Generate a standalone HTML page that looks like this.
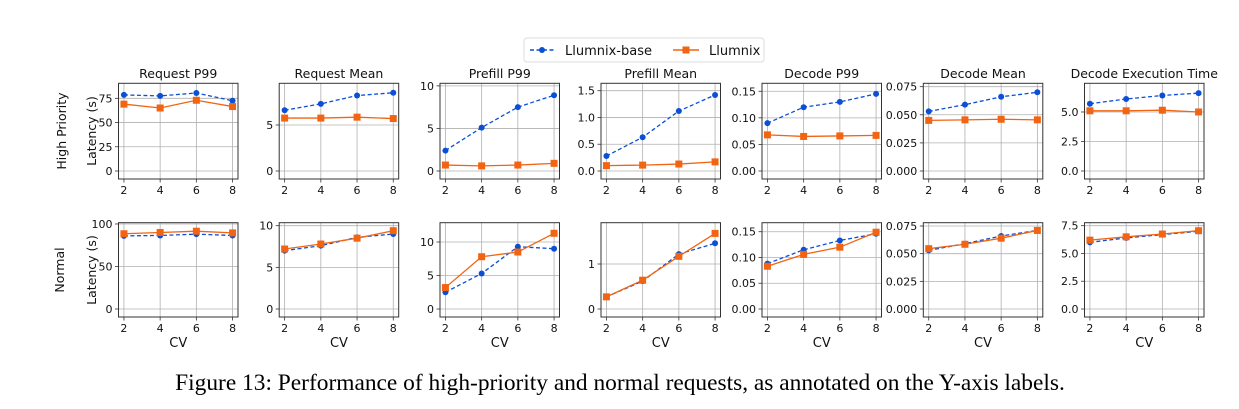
<!DOCTYPE html>
<html><head><meta charset="utf-8"><style>
body{margin:0;background:#fff;}
svg{display:block;font-family:"DejaVu Sans","Liberation Sans",sans-serif;}
</style></head><body>
<svg id="fig" width="1239" height="409" viewBox="0 0 1239 409" xmlns="http://www.w3.org/2000/svg">
<g>
<rect x="524" y="38" width="240" height="24" rx="3" fill="#fff" stroke="#ddd"/>
<line x1="530" y1="50" x2="554" y2="50" stroke="#0b4fd6" stroke-width="1.5" stroke-dasharray="4,2.5"/>
<circle cx="542" cy="50" r="3" fill="#0b4fd6"/>
<text x="565" y="55" font-size="13" fill="#111">Llumnix-base</text>
<line x1="673" y1="50" x2="699" y2="50" stroke="#f26411" stroke-width="1.5"/>
<rect x="682.5" y="46.5" width="7" height="7" fill="#f26411"/>
<text x="709" y="55" font-size="13" fill="#111">Llumnix</text>
</g>
<text x="620" y="390" text-anchor="middle" font-family="'Liberation Serif',serif" font-size="23.4" fill="#000">Figure 13: Performance of high-priority and normal requests, as annotated on the Y-axis labels.</text>
</svg>
<script>
const cvCategories=[2,4,6,8];
const titles=["Request P99","Request Mean","Prefill P99","Prefill Mean","Decode P99","Decode Mean","Decode Execution Time"];
const topBase=[[78.5,77.5,80.5,72.5],[6.6,7.3,8.2,8.5],[2.4,5.1,7.5,8.9],[0.28,0.63,1.12,1.42],[0.09,0.12,0.13,0.145],[0.053,0.059,0.066,0.070],[5.7,6.1,6.4,6.6]];
const topLlumnix=[[69,65,73,66.5],[5.75,5.75,5.85,5.7],[0.7,0.6,0.7,0.9],[0.1,0.11,0.13,0.17],[0.068,0.065,0.066,0.067],[0.045,0.0455,0.046,0.0455],[5.1,5.1,5.15,5.0]];
const botBase=[[86,86.5,88,86.5],[7.0,7.6,8.6,9.0],[2.5,5.3,9.3,9.0],[0.27,0.62,1.22,1.46],[0.088,0.115,0.133,0.146],[0.053,0.059,0.066,0.071],[6.0,6.4,6.7,7.0]];
const botLlumnix=[[88.5,90,91.5,89.5],[7.2,7.8,8.5,9.4],[3.2,7.8,8.5,11.3],[0.27,0.64,1.17,1.68],[0.083,0.106,0.120,0.149],[0.0545,0.0585,0.064,0.071],[6.2,6.5,6.75,7.05]];
const topMax=[90.5,9.53,10.3,1.638,0.165,0.078,7.43];
const botMax=[101.5,10.36,12.88,1.918,0.1675,0.078,7.77];
const topTicks=[["0","25","50","75"],["0","5"],["0","5","10"],["0.0","0.5","1.0","1.5"],["0.00","0.05","0.10","0.15"],["0.000","0.025","0.050","0.075"],["0.0","2.5","5.0"]];
const botTicks=[["0","50","100"],["0","5","10"],["0","5","10"],["0","1"],["0.00","0.05","0.10","0.15"],["0.000","0.025","0.050","0.075"],["0.0","2.5","5.0","7.5"]];

const NS="http://www.w3.org/2000/svg";
const svg=document.getElementById('fig');
function mk(tag,attrs,parent){const e=document.createElementNS(NS,tag);for(const k in attrs)e.setAttribute(k,attrs[k]);(parent||svg).appendChild(e);return e;}
const lefts=[118.5,279.2,440,601,762,923.3,1084.5];
const W=119.5;
const BLUE="#0b4fd6",ORANGE="#f26411";
function drawPanel(i,row){
  const top=row===0?83.3:222.7, bottom=row===0?179:317, zero=row===0?171:309;
  const ymax=row===0?topMax[i]:botMax[i];
  const base=row===0?topBase[i]:botBase[i];
  const ll=row===0?topLlumnix[i]:botLlumnix[i];
  const ticks=row===0?topTicks[i]:botTicks[i];
  const L=lefts[i];
  const xs=v=>L+W*(v-1.7)/6.6;
  const ys=v=>zero-(zero-top)*v/ymax;
  const g=mk('g',{});
  
  
  cvCategories.forEach(c=>{
    const x=xs(c);
    const gl=mk('line',{x1:x,x2:x,y1:top,y2:bottom,stroke:'#b0b0b0','stroke-width':0.8},g);
    
    
    mk('line',{x1:x,x2:x,y1:bottom,y2:bottom+3.5,stroke:'#333','stroke-width':0.8},g);
    const t=mk('text',{x:x,y:bottom+15,'text-anchor':'middle','font-size':11,fill:'#111'},g);
    t.textContent=c;
    
    
  });
  ticks.forEach(s=>{
    const v=parseFloat(s),y=ys(v);
    const gl=mk('line',{x1:L,x2:L+W,y1:y,y2:y,stroke:'#b0b0b0','stroke-width':0.8},g);
    
    
    mk('line',{x1:L-3.5,x2:L,y1:y,y2:y,stroke:'#333','stroke-width':0.8},g);
    const t=mk('text',{x:L-6,y:y+4,'text-anchor':'end','font-size':11,fill:'#111'},g);
    t.textContent=s;
    
    
  });
  const fr=mk('rect',{x:L,y:top,width:W,height:bottom-top,fill:'none',stroke:'#333','stroke-width':1},g);
  
  
  const bl=mk('polyline',{points:base.map((v,k)=>xs(cvCategories[k])+','+ys(v)).join(' '),fill:'none',stroke:BLUE,'stroke-width':1.3,'stroke-dasharray':'4,2.5'},g);
  
  
  const ol=mk('polyline',{points:ll.map((v,k)=>xs(cvCategories[k])+','+ys(v)).join(' '),fill:'none',stroke:ORANGE,'stroke-width':1.3},g);
  
  
  base.forEach((v,k)=>{
    const c=mk('circle',{cx:xs(cvCategories[k]),cy:ys(v),r:3,fill:BLUE},g);
    
    
  });
  ll.forEach((v,k)=>{
    const r=mk('rect',{x:xs(cvCategories[k])-3.5,y:ys(v)-3.5,width:7,height:7,fill:ORANGE},g);
    
    
  });
  if(row===0){
    const t=mk('text',{x:L+W/2,y:78,'text-anchor':'middle','font-size':12.5,fill:'#111'},g);
    t.textContent=titles[i];
    
    
  } else {
    const t=mk('text',{x:L+W/2,y:347,'text-anchor':'middle','font-size':13,fill:'#111'},g);
    t.textContent='CV';
    
    
  }
}
for(let i=0;i<7;i++){drawPanel(i,0);drawPanel(i,1);}
[[66,131,'High Priority'],[96,131,'Latency (s)'],[64,270,'Normal'],[96,270,'Latency (s)']].forEach(([x,y,s])=>{
  const t=mk('text',{x:x,y:y,'text-anchor':'middle','font-size':12.5,fill:'#111',transform:'rotate(-90 '+x+' '+y+')'});
  t.textContent=s;
  
  
});
</script>
</body></html>
